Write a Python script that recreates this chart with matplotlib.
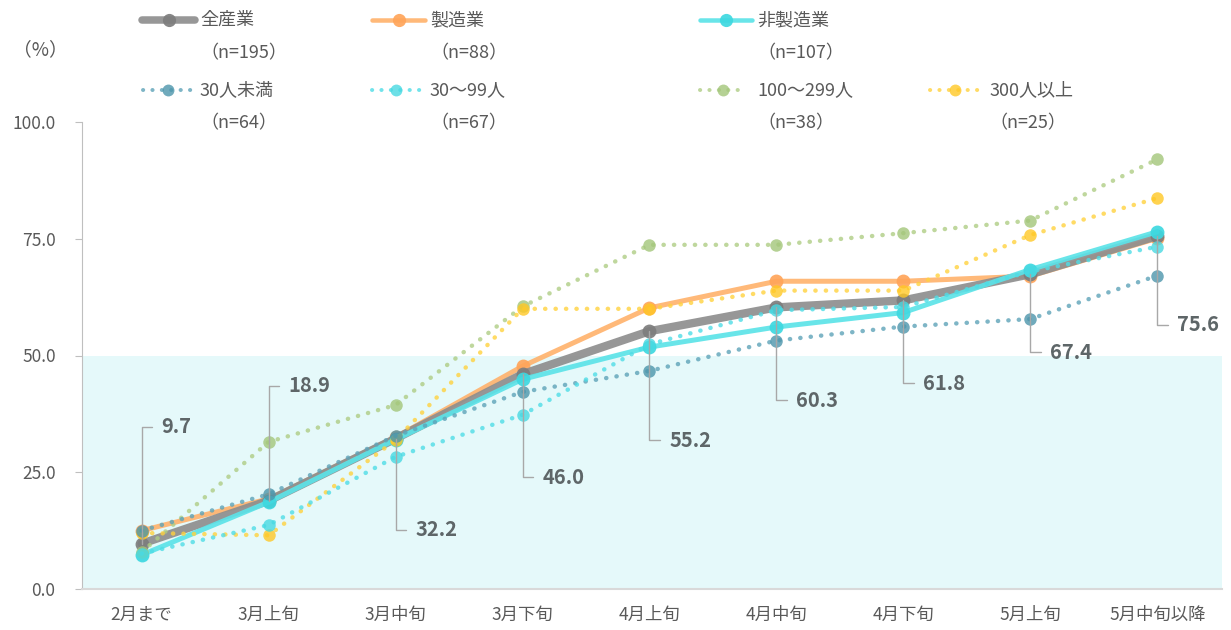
import matplotlib
matplotlib.use("Agg")
import matplotlib.pyplot as plt
from matplotlib.lines import Line2D
from matplotlib.ticker import FormatStrFormatter

plt.rcParams['font.family'] = ['Noto Sans CJK JP', 'DejaVu Sans']

# 時期区分
periods = ['2月まで', '3月上旬', '3月中旬', '3月下旬', '4月上旬',
           '4月中旬', '4月下旬', '5月上旬', '5月中旬以降']

# 累積割合（%）
all_ind = [9.7, 18.9, 32.2, 46.0, 55.2, 60.3, 61.8, 67.4, 75.6]
manuf = [12.5, 19.3, 32.5, 47.7, 60.2, 65.9, 65.9, 67.0, 75.1]
non_manuf = [7.3, 18.6, 32.0, 44.9, 51.8, 56.1, 59.2, 68.4, 76.5]
emp_lt30 = [12.5, 20.3, 32.8, 42.2, 46.7, 53.2, 56.2, 57.8, 67.1]
emp_30_99 = [7.6, 13.7, 28.3, 37.3, 52.4, 59.7, 60.4, 68.0, 73.3]
emp_100_299 = [7.9, 31.5, 39.4, 60.5, 73.7, 73.7, 76.2, 78.9, 92.0]
emp_300 = [12.0, 11.5, 31.9, 60.0, 60.0, 63.9, 63.9, 75.8, 83.7]

names = ['全産業', '製造業', '非製造業', '30人未満', '30〜99人', '100〜299人', '300人以上']
counts = [195, 88, 107, 64, 67, 38, 25]

# 全産業ラベルの引き出し線オフセット（ピクセル）
label_dy = [117, 115, -91, -103, -109, -93, -83, -78, -89]

styles = [
    dict(color='#8E8E8E', lw=6.0, ls='-', mfc='#7D7D7D', ms=10, alpha=0.92),
    dict(color='#FFB36E', lw=3.6, ls='-', mfc='#FFA55A', ms=10, alpha=0.92),
    dict(color='#5CE3E8', lw=3.6, ls='-', mfc='#3ED8E0', ms=10, alpha=0.92),
    dict(color='#5EA3B8', lw=3.2, ls=(0, (0.05, 2.3)), mfc='#4C95AB', ms=9, alpha=0.8),
    dict(color='#4FDDE6', lw=3.2, ls=(0, (0.05, 2.3)), mfc='#48D9E2', ms=9, alpha=0.8),
    dict(color='#AFCD85', lw=3.2, ls=(0, (0.05, 2.3)), mfc='#A3C67A', ms=9, alpha=0.8),
    dict(color='#FFD23F', lw=3.2, ls=(0, (0.05, 2.3)), mfc='#FFC825', ms=9, alpha=0.8),
]
series = [all_ind, manuf, non_manuf, emp_lt30, emp_30_99, emp_100_299, emp_300]

fig = plt.figure(figsize=(12.31, 6.30), dpi=100)
ax = fig.add_axes([82 / 1231, 41 / 630, 1140 / 1231, 467 / 630])

ax.axhspan(0, 50, color='#E5F9FA', zorder=0, lw=0)

x = list(range(len(periods)))
# 実線（業種別）を先に、点線（規模別）を上に重ねる
draw_order = [1, 0, 2, 5, 6, 3, 4]
for z, i in enumerate(draw_order):
    s = styles[i]
    ax.plot(x, series[i], color=s['color'], lw=s['lw'], ls=s['ls'],
            dash_capstyle='round', solid_capstyle='round', solid_joinstyle='round',
            marker='o', ms=s['ms'], mfc=s['mfc'], mec='none', alpha=s['alpha'],
            zorder=3 + z * 0.1)

# 全産業の値ラベル
for xi, v, dy in zip(x, all_ind, label_dy):
    ax.annotate(f'{v:.1f}', xy=(xi, v), xytext=(20, dy), textcoords='offset pixels',
                ha='left', va='center', fontsize=14.5, fontweight='bold', color='#5E6668',
                arrowprops=dict(arrowstyle='-', color='#A8A8A8', lw=1.0,
                                connectionstyle='angle,angleA=0,angleB=90,rad=0',
                                shrinkA=5, shrinkB=0, relpos=(0, 0.5)),
                zorder=6)

ax.set_xlim(-0.47, 8.51)
ax.set_ylim(0, 100)
ax.set_yticks([0, 25, 50, 75, 100])
ax.yaxis.set_major_formatter(FormatStrFormatter('%.1f'))
ax.set_xticks(x)
ax.set_xticklabels(periods)
for side in ['top', 'right']:
    ax.spines[side].set_visible(False)
ax.spines['left'].set_color('#BFBFBF')
ax.spines['bottom'].set_color('#D9D9D9')
ax.spines['bottom'].set_linewidth(1.5)
ax.tick_params(axis='y', colors='#BFBFBF', labelcolor='#595959', labelsize=12.5,
               length=5, pad=14)
ax.tick_params(axis='x', length=0, labelcolor='#595959', labelsize=12.5, pad=12)

fig.text(40 / 1231, 1 - 50 / 630, '（%）', ha='center', va='center',
         fontsize=13.5, color='#595959')

# 凡例（手描き）
W, H = 1231, 630
leg_pos = [
    (142, 195, 20, 200), (372, 425, 20, 430), (700, 752, 20, 757),
    (143, 192, 90, 200), (372, 420, 90, 430), (700, 745, 90, 757), (930, 980, 90, 989),
]
for i, (x0, x1, yy, tx) in enumerate(leg_pos):
    s = styles[i]
    fy = 1 - yy / H
    fig.add_artist(Line2D([x0 / W, x1 / W], [fy, fy], transform=fig.transFigure,
                          color=s['color'], lw=s['lw'] * 0.9, ls=s['ls'],
                          dash_capstyle='round', solid_capstyle='round', alpha=s['alpha']))
    fig.add_artist(Line2D([(x0 + x1) / 2 / W], [fy], transform=fig.transFigure,
                          marker='o', ms=s['ms'] * 0.95, mfc=s['mfc'], mec='none',
                          alpha=s['alpha'], ls='none'))
    fig.text(tx / W, fy, names[i], ha='left', va='center', fontsize=13, color='#595959')
    fig.text(tx / W, 1 - (yy + 33) / H, f'（n={counts[i]}）', ha='left', va='center',
             fontsize=13, color='#595959')

fig.savefig('out.png', dpi=100)
